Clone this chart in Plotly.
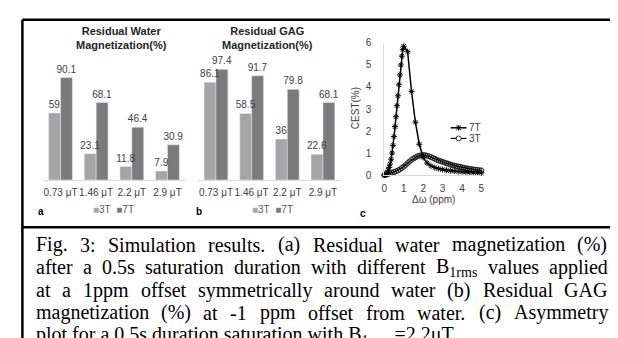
import plotly.graph_objects as go

W, H = 618, 338

# ---------------- data ----------------
fields = ["0.73 μT", "1.46 μT", "2.2 μT", "2.9 μT"]
water_3t = [59, 23.1, 11.8, 7.9]
water_7t = [90.1, 68.1, 46.4, 30.9]
gag_3t = [86.1, 58.5, 36, 22.6]
gag_7t = [97.4, 91.7, 79.8, 68.1]

offset_7t = [0, 0.05, 0.1, 0.15, 0.2, 0.25, 0.3, 0.35, 0.4, 0.45, 0.5, 0.55, 0.6,
             0.65, 0.7, 0.75, 0.8, 0.85, 0.9, 0.95, 1.0, 1.2, 1.4, 1.6, 1.8, 2.0,
             2.2, 2.4, 2.6, 2.8, 3.0, 3.2, 3.4, 3.6, 3.8, 4.0, 4.2, 4.4, 4.6, 4.8, 5.0]
cest_7t = [0.0, 0.02, 0.06, 0.12, 0.22, 0.35, 0.5, 0.72, 1.0, 1.35, 1.75, 2.2, 2.65,
           3.15, 3.6, 4.1, 4.55, 5.0, 5.4, 5.7, 5.85, 5.6, 3.8, 2.4, 1.4, 0.8,
           0.55, 0.42, 0.34, 0.29, 0.25, 0.22, 0.2, 0.18, 0.16, 0.15, 0.14, 0.13, 0.12, 0.11, 0.1]

offset_3t = [0.0, 0.1, 0.2, 0.3, 0.4, 0.5, 0.6, 0.7, 0.8, 0.9, 1.0, 1.1, 1.2, 1.3, 1.4,
             1.5, 1.6, 1.7, 1.8, 1.9, 2.0, 2.1, 2.2, 2.3, 2.4, 2.5, 2.6, 2.7, 2.8, 2.9,
             3.0, 3.1, 3.2, 3.3, 3.4, 3.5, 3.6, 3.7, 3.8, 3.9, 4.0, 4.1, 4.2, 4.3, 4.4,
             4.5, 4.6, 4.7, 4.8, 4.9, 5.0]
cest_3t = [0.0, 0.02, 0.05, 0.08, 0.11, 0.14, 0.17, 0.21, 0.26, 0.32, 0.38, 0.46, 0.54,
           0.62, 0.69, 0.75, 0.8, 0.85, 0.88, 0.9, 0.91, 0.9, 0.88, 0.85, 0.82, 0.78,
           0.74, 0.7, 0.66, 0.63, 0.6, 0.57, 0.54, 0.51, 0.48, 0.45, 0.43, 0.41, 0.39,
           0.37, 0.35, 0.33, 0.31, 0.3, 0.28, 0.27, 0.25, 0.24, 0.23, 0.22, 0.21]

caption_lines = [
    "Fig. 3: Simulation results. (a) Residual water magnetization (%)",
    "after a 0.5s saturation duration with different B<sub>1rms</sub> values applied",
    "at a 1ppm offset symmetrically around water (b) Residual GAG",
    "magnetization (%) at -1 ppm offset from water. (c) Asymmetry",
    "plot for a 0.5s duration saturation with B<sub>1rms</sub> =2.2μT",
]

# ---------------- helpers ----------------
def px(x):
    return x / W

def py(y):
    return 1 - y / H

C3 = "#a5a5a5"
C7 = "#7b7b7b"
SANS = "Arial, Liberation Sans, sans-serif"
SERIF = "Liberation Serif, Times New Roman, serif"

fig = go.Figure()

panels = [("x", "y", water_3t, water_7t), ("x2", "y2", gag_3t, gag_7t)]
# bars first
for xa, ya, v3, v7 in panels:
    for vals, col, nm in [(v3, C3, "3T"), (v7, C7, "7T")]:
        fig.add_trace(go.Bar(x=fields, y=vals, name=nm, marker_color=col, xaxis=xa, yaxis=ya,
                             offsetgroup=nm, showlegend=False, hoverinfo="skip"))
# value labels on top (transparent bars in same slots)
for xa, ya, v3, v7 in panels:
    for vals, nm in [(v3, "3T"), (v7, "7T")]:
        fig.add_trace(go.Bar(x=fields, y=vals, name=nm + " label",
                             marker=dict(color="rgba(0,0,0,0)", line=dict(width=0)),
                             xaxis=xa, yaxis=ya, offsetgroup=nm,
                             text=[str(v) for v in vals], textposition="outside",
                             constraintext="none",
                             textfont=dict(size=10, color="#404040", family=SANS),
                             cliponaxis=False, showlegend=False))

fig.add_trace(go.Scatter(x=offset_7t, y=cest_7t, mode="lines+markers", name="7T",
                         line=dict(color="black", width=1.5),
                         marker=dict(symbol="asterisk-open", size=5,
                                     line=dict(color="black", width=1)),
                         xaxis="x3", yaxis="y3", showlegend=False, cliponaxis=False))
fig.add_trace(go.Scatter(x=offset_3t, y=cest_3t, mode="lines+markers", name="3T",
                         line=dict(color="black", width=1.2),
                         marker=dict(symbol="circle-open", size=5, color="black",
                                     line=dict(color="black", width=0.8)),
                         xaxis="x3", yaxis="y3", showlegend=False, cliponaxis=False))

bar_x = dict(type="category", showline=True, linecolor="#d9d9d9", linewidth=1,
             ticks="", showgrid=False, zeroline=False, range=[-0.5, 3.5], tickangle=0,
             tickfont=dict(size=10, color="#404040", family=SANS), ticklabelstandoff=3)
bar_y = dict(range=[0, 100], visible=False)

fig.update_layout(
    width=W, height=H, margin=dict(l=0, r=0, t=0, b=0),
    paper_bgcolor="white", plot_bgcolor="white",
    barmode="group", bargap=0.333, bargroupgap=0,
    xaxis=dict(domain=[px(32), px(176)], anchor="y", **bar_x),
    yaxis=dict(domain=[py(172), py(54.3)], anchor="x", **bar_y),
    xaxis2=dict(domain=[px(189), px(333)], anchor="y2", **bar_x),
    yaxis2=dict(domain=[py(172), py(54.3)], anchor="x2", **bar_y),
    xaxis3=dict(domain=[px(377), px(475)], anchor="y3", range=[0, 5], dtick=1,
                showline=True, linecolor="#d9d9d9", linewidth=1, ticks="", tickangle=0,
                showgrid=False, zeroline=False,
                tickfont=dict(size=10, color="#404040", family=SANS), ticklabelstandoff=4),
    yaxis3=dict(domain=[py(167), py(30)], anchor="x3", range=[0, 6], dtick=1,
                showline=True, linecolor="#d9d9d9", linewidth=1, ticks="",
                showgrid=False, zeroline=False,
                tickfont=dict(size=10, color="#404040", family=SANS), ticklabelstandoff=10),
    showlegend=False,
)

ann = []
def A(text, x, y, size=10, color="#404040", bold=False, family=SANS, xanchor="center",
      angle=0):
    if bold:
        text = "<b>" + text + "</b>"
    ann.append(dict(text=text, x=px(x), y=py(y), xref="paper", yref="paper",
                    showarrow=False, xanchor=xanchor, yanchor="middle",
                    font=dict(size=size, color=color, family=family),
                    borderpad=0, borderwidth=0, textangle=angle))

A("Residual Water<br>Magnetization(%)", 112, 25, size=11, color="#262626", bold=True)
A("Residual GAG<br>Magnetization(%)", 259, 25, size=11, color="#262626", bold=True)

leg = ('<span style="color:%s">■</span>3T&nbsp;&nbsp;<span style="color:%s">■</span>7T'
       % (C3, C7))
A(leg, 103, 203, size=10, color="#595959")
A(leg, 264, 203, size=10, color="#595959")

A("a", 30, 205, size=10, color="black", bold=True)
A("b", 190, 205, size=10, color="black", bold=True)
A("c", 355, 207, size=10, color="black", bold=True)

A("Δω (ppm)", 427, 192, size=10)
A("CEST(%)", 348, 98, size=10, angle=-90)
A("7T", 462, 118, size=10, xanchor="left")
A("3T", 462, 129, size=10, xanchor="left")

# ---- caption (justified lines) ----
TW = {' ': 250, 'a': 444, 'b': 500, 'c': 444, 'd': 500, 'e': 444, 'f': 333, 'g': 500,
      'h': 500, 'i': 278, 'j': 278, 'k': 500, 'l': 278, 'm': 778, 'n': 500, 'o': 500,
      'p': 500, 'q': 500, 'r': 333, 's': 389, 't': 278, 'u': 500, 'v': 500, 'w': 722,
      'x': 500, 'y': 500, 'z': 444, 'A': 722, 'B': 667, 'C': 667, 'D': 722, 'E': 611,
      'F': 556, 'G': 722, 'H': 722, 'I': 333, 'R': 667, 'S': 556, 'T': 611, '.': 250,
      ',': 250, ':': 278, '(': 333, ')': 333, '%': 833, '-': 333, '=': 564, 'μ': 500}

def word_w(wd, size):
    total = 0.0
    scale = 1.0
    i = 0
    while i < len(wd):
        if wd.startswith("<sub>", i):
            scale = 0.7; i += 5; continue
        if wd.startswith("</sub>", i):
            scale = 1.0; i += 6; continue
        ch = wd[i]
        total += TW.get(ch, 500) * scale
        i += 1
    return total * size / 1000.0

CAP_SIZE = 20
x_left, x_right = 25, 602
y0, dy = 239, 23.6
for k, line in enumerate(caption_lines):
    yy = y0 + k * dy
    if k == len(caption_lines) - 1:
        A(line, x_left, yy, size=CAP_SIZE, color="black", family=SERIF, xanchor="left")
        continue
    words = line.split(" ")
    widths = [word_w(w, CAP_SIZE) for w in words]
    gap = (x_right - x_left - sum(widths)) / (len(words) - 1)
    xx = x_left
    for w, wd in zip(words, widths):
        A(w, xx, yy, size=CAP_SIZE, color="black", family=SERIF, xanchor="left")
        xx += wd + gap

fig.update_layout(annotations=ann)

# ---- frame and legend glyphs ----
shapes = []
def L(x0, y0_, x1, y1, w=2.5, color="black"):
    shapes.append(dict(type="line", xref="paper", yref="paper", x0=px(x0), y0=py(y0_),
                       x1=px(x1), y1=py(y1), line=dict(color=color, width=w)))

L(11.5, 6, 612.5, 6)
L(11.5, 6, 11.5, 340)
L(612.5, 6, 612.5, 340)
L(11.5, 221, 612.5, 221)

# legend for panel c
L(444, 118, 460, 118, w=1.5)
L(444, 129, 460, 129, w=1.2)
cx, cy = 452, 118
for dx_, dy_ in [(0, 2.8), (2.4, 2.4), (2.4, -2.4)]:
    L(cx - dx_, cy - dy_, cx + dx_, cy + dy_, w=1)
shapes.append(dict(type="circle", xref="paper", yref="paper",
                   x0=px(449.5), x1=px(454.5), y0=py(131.5), y1=py(126.5),
                   line=dict(color="black", width=0.8), fillcolor="white"))
fig.update_layout(shapes=shapes)

fig.write_html("out.html")
